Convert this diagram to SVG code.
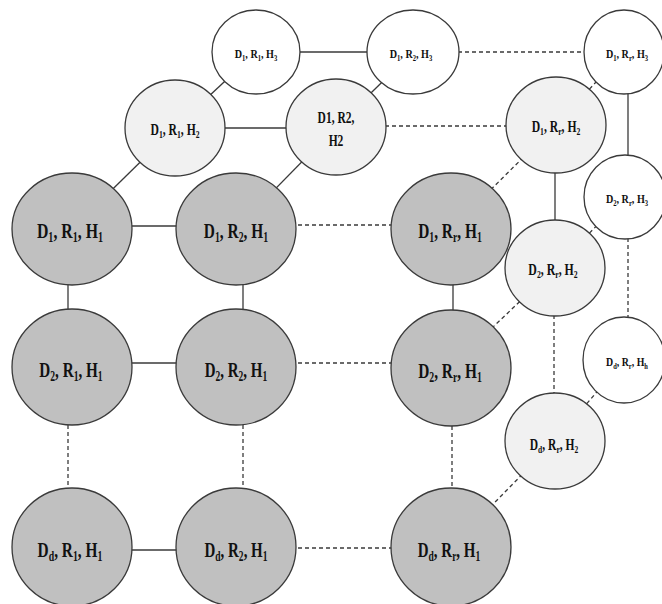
<svg xmlns="http://www.w3.org/2000/svg" width="662" height="604" viewBox="0 0 662 604">
<style>
.c{stroke:#3a3a3a;stroke-width:1.3}
.lg{fill:#c0c0c0}
.md{fill:#f1f1f1}
.sm{fill:#ffffff}
.e line{stroke:#3a3a3a;stroke-width:1.3}
.e .d{stroke-dasharray:4 3}
.t{font-family:"Liberation Serif","Times New Roman",serif;font-weight:bold;text-anchor:middle;fill:#111}
.tl{font-size:22px}
.tl .s{font-size:14px}
.tm{font-size:16px}
.tm .s{font-size:10.5px}
.ts{font-size:13px}
.ts .s{font-size:8.5px}
</style>
<rect width="662" height="604" fill="#fff"/>
<g id="connectors" class="e">
<line x1="132" y1="226" x2="177" y2="226"/>
<line x1="132" y1="363" x2="177" y2="363"/>
<line x1="132" y1="550" x2="177" y2="550"/>
<line x1="68" y1="284" x2="68" y2="310"/>
<line x1="243" y1="284" x2="243" y2="310"/>
<line x1="453" y1="284" x2="453" y2="310"/>
<line x1="298" y1="52" x2="368" y2="52"/>
<line x1="224" y1="128" x2="287" y2="128"/>
<line x1="175" y1="128" x2="72" y2="229"/>
<line x1="336" y1="127" x2="236" y2="229"/>
<line x1="256" y1="52" x2="175" y2="128"/>
<line x1="413" y1="52" x2="336" y2="127"/>
<line x1="555" y1="170" x2="555" y2="222"/>
<line x1="628" y1="92" x2="628" y2="157"/>
<line class="d" x1="298" y1="225" x2="392" y2="225"/>
<line class="d" x1="298" y1="363" x2="392" y2="363"/>
<line class="d" x1="298" y1="548" x2="392" y2="548"/>
<line class="d" x1="68" y1="425" x2="68" y2="489"/>
<line class="d" x1="243" y1="425" x2="243" y2="489"/>
<line class="d" x1="452" y1="426" x2="452" y2="489"/>
<line class="d" x1="458" y1="52" x2="585" y2="52"/>
<line class="d" x1="385" y1="126" x2="507" y2="126"/>
<line class="d" x1="451" y1="229" x2="556" y2="125"/>
<line class="d" x1="451" y1="367" x2="555" y2="268"/>
<line class="d" x1="451" y1="547" x2="555" y2="441"/>
<line class="d" x1="556" y1="125" x2="624" y2="52"/>
<line class="d" x1="555" y1="268" x2="625" y2="197"/>
<line class="d" x1="555" y1="441" x2="624" y2="360"/>
<line class="d" x1="554" y1="315" x2="554" y2="394"/>
<line class="d" x1="628" y1="238" x2="628" y2="318"/>
</g>
<g id="n_d1r1h3"><ellipse class="c sm" cx="256" cy="52" rx="44" ry="42"/><text class="t ts" transform="translate(256 58) scale(0.78 1)">D<tspan class="s" dy="2.5">1</tspan><tspan dy="-2.5">, R</tspan><tspan class="s" dy="2.5">1</tspan><tspan dy="-2.5">, H</tspan><tspan class="s" dy="2.5">3</tspan></text></g>
<g id="n_d1r2h3"><ellipse class="c sm" cx="413" cy="52" rx="46" ry="42"/><text class="t ts" transform="translate(411 58) scale(0.78 1)">D<tspan class="s" dy="2.5">1</tspan><tspan dy="-2.5">, R</tspan><tspan class="s" dy="2.5">2</tspan><tspan dy="-2.5">, H</tspan><tspan class="s" dy="2.5">3</tspan></text></g>
<g id="n_d1rrh3"><ellipse class="c sm" cx="624" cy="52" rx="40" ry="42"/><text class="t ts" transform="translate(627 58) scale(0.78 1)">D<tspan class="s" dy="2.5">1</tspan><tspan dy="-2.5">, R</tspan><tspan class="s" dy="2.5">r</tspan><tspan dy="-2.5">, H</tspan><tspan class="s" dy="2.5">3</tspan></text></g>
<g id="n_d2rrh3"><ellipse class="c sm" cx="625" cy="197" rx="41" ry="42"/><text class="t ts" transform="translate(627 203) scale(0.78 1)">D<tspan class="s" dy="2.5">2</tspan><tspan dy="-2.5">, R</tspan><tspan class="s" dy="2.5">r</tspan><tspan dy="-2.5">, H</tspan><tspan class="s" dy="2.5">3</tspan></text></g>
<g id="n_ddrrhh"><ellipse class="c sm" cx="624" cy="360" rx="41" ry="43"/><text class="t ts" transform="translate(627 366) scale(0.76 1)">D<tspan class="s" dy="2.5">d</tspan><tspan dy="-2.5">, R</tspan><tspan class="s" dy="2.5">r</tspan><tspan dy="-2.5">, H</tspan><tspan class="s" dy="2.5">h</tspan></text></g>
<g id="n_d1r1h2"><ellipse class="c md" cx="175" cy="128" rx="50" ry="48"/><text class="t tm" transform="translate(175 135) scale(0.73 1)">D<tspan class="s" dy="3">1</tspan><tspan dy="-3">, R</tspan><tspan class="s" dy="3">1</tspan><tspan dy="-3">, H</tspan><tspan class="s" dy="3">2</tspan></text></g>
<g id="n_d1r2h2"><ellipse class="c md" cx="336" cy="127" rx="50" ry="48"/><text class="t tm" transform="translate(336 123) scale(0.72 1)">D1, R2,</text><text class="t tm" transform="translate(336 146) scale(0.72 1)">H2</text></g>
<g id="n_d1rrh2"><ellipse class="c md" cx="556" cy="125" rx="50" ry="48"/><text class="t tm" transform="translate(556 132) scale(0.73 1)">D<tspan class="s" dy="3">1</tspan><tspan dy="-3">, R</tspan><tspan class="s" dy="3">r</tspan><tspan dy="-3">, H</tspan><tspan class="s" dy="3">2</tspan></text></g>
<g id="n_d2rrh2"><ellipse class="c md" cx="555" cy="268" rx="50" ry="48"/><text class="t tm" transform="translate(553 275) scale(0.74 1)">D<tspan class="s" dy="3">2</tspan><tspan dy="-3">, R</tspan><tspan class="s" dy="3">r</tspan><tspan dy="-3">, H</tspan><tspan class="s" dy="3">2</tspan></text></g>
<g id="n_ddrrh2"><ellipse class="c md" cx="555" cy="441" rx="50" ry="48"/><text class="t tm" transform="translate(554 450) scale(0.72 1)">D<tspan class="s" dy="3">d</tspan><tspan dy="-3">, R</tspan><tspan class="s" dy="3">r</tspan><tspan dy="-3">, H</tspan><tspan class="s" dy="3">2</tspan></text></g>
<g id="n_d1r1h1"><ellipse class="c lg" cx="72" cy="229" rx="60" ry="56"/><text class="t tl" transform="translate(70 238) scale(0.72 1)">D<tspan class="s" dy="4">1</tspan><tspan dy="-4">, R</tspan><tspan class="s" dy="4">1</tspan><tspan dy="-4">, H</tspan><tspan class="s" dy="4">1</tspan></text></g>
<g id="n_d1r2h1"><ellipse class="c lg" cx="236" cy="229" rx="60" ry="56"/><text class="t tl" transform="translate(236 238) scale(0.7 1)">D<tspan class="s" dy="4">1</tspan><tspan dy="-4">, R</tspan><tspan class="s" dy="4">2</tspan><tspan dy="-4">, H</tspan><tspan class="s" dy="4">1</tspan></text></g>
<g id="n_d1rrh1"><ellipse class="c lg" cx="451" cy="229" rx="60" ry="56"/><text class="t tl" transform="translate(450 238) scale(0.7 1)">D<tspan class="s" dy="4">1</tspan><tspan dy="-4">, R</tspan><tspan class="s" dy="4">r</tspan><tspan dy="-4">, H</tspan><tspan class="s" dy="4">1</tspan></text></g>
<g id="n_d2r1h1"><ellipse class="c lg" cx="72" cy="367" rx="60" ry="58"/><text class="t tl" transform="translate(71 377) scale(0.69 1)">D<tspan class="s" dy="4">2</tspan><tspan dy="-4">, R</tspan><tspan class="s" dy="4">1</tspan><tspan dy="-4">, H</tspan><tspan class="s" dy="4">1</tspan></text></g>
<g id="n_d2r2h1"><ellipse class="c lg" cx="236" cy="367" rx="60" ry="58"/><text class="t tl" transform="translate(236 377) scale(0.68 1)">D<tspan class="s" dy="4">2</tspan><tspan dy="-4">, R</tspan><tspan class="s" dy="4">2</tspan><tspan dy="-4">, H</tspan><tspan class="s" dy="4">1</tspan></text></g>
<g id="n_d2rrh1"><ellipse class="c lg" cx="451" cy="368" rx="60" ry="58"/><text class="t tl" transform="translate(450 378) scale(0.7 1)">D<tspan class="s" dy="4">2</tspan><tspan dy="-4">, R</tspan><tspan class="s" dy="4">r</tspan><tspan dy="-4">, H</tspan><tspan class="s" dy="4">1</tspan></text></g>
<g id="n_ddr1h1"><ellipse class="c lg" cx="72" cy="547" rx="60" ry="59"/><text class="t tl" transform="translate(70 557) scale(0.7 1)">D<tspan class="s" dy="4">d</tspan><tspan dy="-4">, R</tspan><tspan class="s" dy="4">1</tspan><tspan dy="-4">, H</tspan><tspan class="s" dy="4">1</tspan></text></g>
<g id="n_ddr2h1"><ellipse class="c lg" cx="236" cy="547" rx="60" ry="59"/><text class="t tl" transform="translate(236 557) scale(0.68 1)">D<tspan class="s" dy="4">d</tspan><tspan dy="-4">, R</tspan><tspan class="s" dy="4">2</tspan><tspan dy="-4">, H</tspan><tspan class="s" dy="4">1</tspan></text></g>
<g id="n_ddrrh1"><ellipse class="c lg" cx="451" cy="547" rx="60" ry="59"/><text class="t tl" transform="translate(449 557) scale(0.68 1)">D<tspan class="s" dy="4">d</tspan><tspan dy="-4">, R</tspan><tspan class="s" dy="4">r</tspan><tspan dy="-4">, H</tspan><tspan class="s" dy="4">1</tspan></text></g>
</svg>
